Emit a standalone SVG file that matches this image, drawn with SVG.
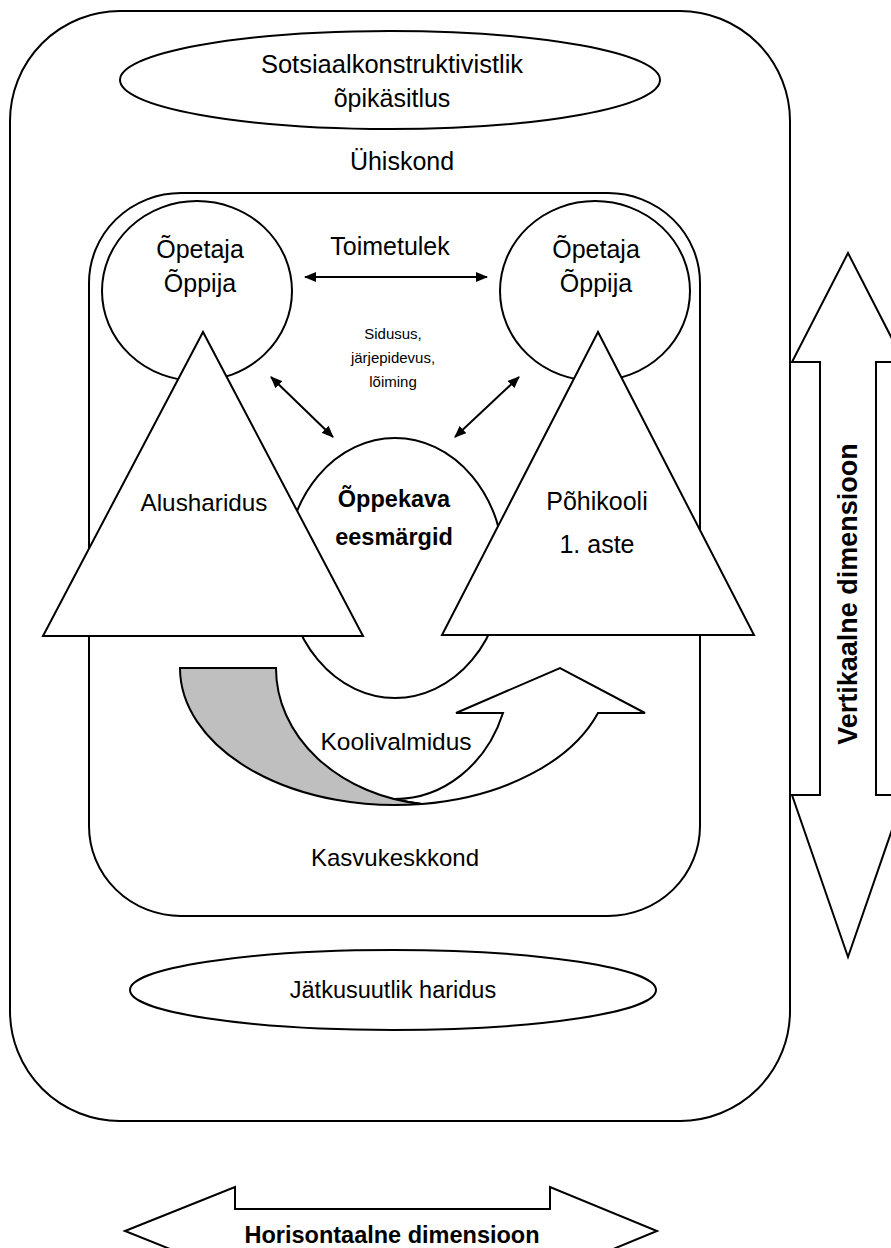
<svg xmlns="http://www.w3.org/2000/svg" width="891" height="1248" viewBox="0 0 891 1248">
<defs>
<style>
.s{fill:#fff;stroke:#000;stroke-width:2}
.t{font-family:"Liberation Sans",Arial,sans-serif;font-size:25px;fill:#000;text-anchor:middle}
.b{font-weight:bold}
.c{stroke:#000;stroke-width:2;fill:none}
</style>
<marker id="ah" viewBox="0 0 12 10" refX="11" refY="5" markerWidth="12" markerHeight="10" markerUnits="userSpaceOnUse" orient="auto-start-reverse">
<path d="M0,0 L12,5 L0,10 z" fill="#000"/>
</marker>
</defs>
<rect width="891" height="1248" fill="#fff"/>

<g id="ühiskond">
<rect class="s" x="10" y="11" width="780" height="1110" rx="110" ry="110"/>
<text class="t" x="402" y="170">Ühiskond</text>
</g>

<g id="sotsiaalkonstruktivistlik">
<ellipse class="s" cx="390" cy="80" rx="270" ry="49"/>
<text class="t" x="392" y="73" style="font-size:25.5px">Sotsiaalkonstruktivistlik</text>
<text class="t" x="392" y="107">õpikäsitlus</text>
</g>

<g id="kasvukeskkond">
<rect class="s" x="89" y="193" width="611" height="723" rx="92" ry="90"/>
<text class="t" x="395" y="866" style="font-size:24px">Kasvukeskkond</text>
</g>

<g id="jatkusuutlik">
<ellipse class="s" cx="393" cy="990" rx="263" ry="40"/>
<text class="t" x="393" y="998" style="font-size:23.5px">Jätkusuutlik haridus</text>
</g>

<g id="oppekava">
<ellipse class="s" cx="395" cy="568" rx="109" ry="130"/>
<text class="t b" x="394" y="507" style="font-size:23.5px">Õppekava</text>
<text class="t b" x="394" y="545" style="font-size:23.5px">eesmärgid</text>
</g>

<g id="ring-vasak">
<ellipse class="s" cx="197" cy="291" rx="95" ry="90"/>
<text class="t" x="200" y="258">Õpetaja</text>
<text class="t" x="200" y="292">Õppija</text>
</g>

<g id="ring-parem">
<ellipse class="s" cx="595" cy="291" rx="95" ry="90"/>
<text class="t" x="596" y="258">Õpetaja</text>
<text class="t" x="596" y="292">Õppija</text>
</g>

<g id="alusharidus">
<polygon class="s" points="203,332 43,636 363,636"/>
<text class="t" x="204" y="511" style="font-size:24.3px">Alusharidus</text>
</g>

<g id="pohikool">
<polygon class="s" points="598,332 442,635 754,635"/>
<text class="t" x="597" y="510">Põhikooli</text>
<text class="t" x="597" y="553">1. aste</text>
</g>

<g id="koolivalmidus">
<path class="s" d="M422,804 A215,137 0 0,0 598,713 L645,713 L560,668 L456,713 L503,713 A115,131 0 0,1 395,799 A168,137 0 0,0 422,804 Z"/>
<path class="s" style="fill:#bfbfbf" d="M180,668 L276,668 A168,137 0 0,0 422,804 A215,137 0 0,1 180,668 Z"/>
<text class="t" x="396" y="750" style="font-size:24.5px">Koolivalmidus</text>
</g>

<g id="labels">
<text class="t" x="390" y="255">Toimetulek</text>
<text class="t" x="393" y="339" style="font-size:15px">Sidusus,</text>
<text class="t" x="393" y="363" style="font-size:15px">järjepidevus,</text>
<text class="t" x="393" y="387" style="font-size:15px">lõiming</text>
</g>

<g id="connectors">
<line class="c" x1="305" y1="277" x2="487" y2="277" marker-start="url(#ah)" marker-end="url(#ah)"/>
<line class="c" x1="271" y1="377" x2="333" y2="437" marker-start="url(#ah)" marker-end="url(#ah)"/>
<line class="c" x1="519" y1="377" x2="455" y2="437" marker-start="url(#ah)" marker-end="url(#ah)"/>
</g>

<g id="vertikaalne">
<polygon class="s" points="848,253 904,362 876,362 876,795 904,795 848,957 792,795 820,795 820,362 792,362"/>
<text class="t b" transform="translate(857,594) rotate(-90)" style="font-size:27px">Vertikaalne dimensioon</text>
</g>

<g id="horisontaalne">
<polygon class="s" points="125,1231 235,1187 235,1209 550,1209 550,1187 657,1231 550,1275 550,1253 235,1253 235,1275"/>
<text class="t b" x="392" y="1243" style="font-size:23.5px">Horisontaalne dimensioon</text>
</g>
</svg>
